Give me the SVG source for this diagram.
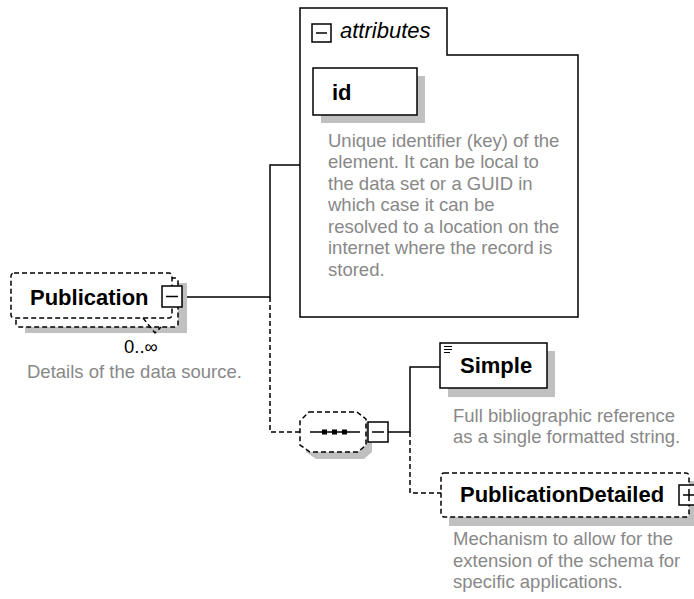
<svg xmlns="http://www.w3.org/2000/svg" width="694" height="599" viewBox="0 0 694 599">
<style>
.bg{fill:#fff}
.box{fill:#fff;stroke:#000;stroke-width:1.5}
.dash{stroke-dasharray:5 3}
.shadow{fill:#c0c0c0;stroke:none}
.btn{fill:#fff;stroke:#000;stroke-width:1.5}
.sign{stroke:#000;stroke-width:1.5;fill:none}
.conn{fill:none;stroke:#000;stroke-width:1.5}
.lbl{font-family:"Liberation Sans",Arial,sans-serif;font-weight:bold;font-size:22px;fill:#000}
.desc{font-family:"Liberation Sans",Arial,sans-serif;font-size:18.5px;fill:#888}
.card{font-family:"Liberation Sans",Arial,sans-serif;font-size:18.5px;fill:#000}
</style>
<rect class="bg" x="0" y="0" width="694" height="599"/>

<g id="connectors">
  <path class="conn" d="M182,297 H270 V165 H300"/>
  <path class="conn dash" d="M270,297 V432 H300"/>
  <path class="conn" d="M388,432 H410 V367 H440"/>
  <path class="conn dash" d="M410,432 V493 H441"/>
</g>

<g id="attributes">
  <path class="box" d="M300,8 H447 V55 H578 V317 H300 Z"/>
  <rect class="btn" x="312" y="24" width="19" height="18"/>
  <line class="sign" x1="316" y1="33" x2="327" y2="33"/>
  <text x="340" y="38" font-family="Liberation Sans, Arial, sans-serif" font-style="italic" font-size="22" fill="#000">attributes</text>
  <g id="id">
    <rect class="shadow" x="321" y="76" width="104" height="47"/>
    <rect class="box" x="313" y="68" width="104" height="47"/>
    <text class="lbl" x="332" y="100">id</text>
  </g>
  <text class="desc">
    <tspan x="328" y="146.5">Unique identifier (key) of the</tspan>
    <tspan x="328" y="168">element. It can be local to</tspan>
    <tspan x="328" y="189.5">the data set or a GUID in</tspan>
    <tspan x="328" y="211">which case it can be</tspan>
    <tspan x="328" y="232.5">resolved to a location on the</tspan>
    <tspan x="328" y="254">internet where the record is</tspan>
    <tspan x="328" y="275.5">stored.</tspan>
  </text>
</g>

<g id="Publication">
  <rect class="shadow" x="25" y="283" width="162" height="50"/>
  <rect class="box dash" x="16" y="278" width="162" height="49" rx="3"/>
  <rect class="box dash" x="11" y="273" width="161" height="45" rx="3"/>
  <path class="conn dash" d="M143,318 L155,333 L161,327"/>
  <text class="lbl" x="30" y="305">Publication</text>
  <rect class="btn" x="162" y="286" width="20" height="21"/>
  <line class="sign" x1="166" y1="296.5" x2="178" y2="296.5"/>
  <text class="card" x="124" y="353">0..∞</text>
  <text class="desc" x="27" y="378">Details of the data source.</text>
</g>

<g id="sequence">
  <polygon class="shadow" points="318,419 363,419 372,426 372,452 364,459 316,459 306,452 306,428"/>
  <polygon class="box dash" points="309,412 357,412 366,419 366,445 358,452 310,452 300,445 300,421"/>
  <line class="sign" x1="310" y1="432" x2="360" y2="432"/>
  <rect x="322" y="429.5" width="5" height="5" fill="#000"/>
  <rect x="332" y="429.5" width="5" height="5" fill="#000"/>
  <rect x="342" y="429.5" width="5" height="5" fill="#000"/>
  <rect class="btn" x="368" y="422" width="20" height="20"/>
  <line class="sign" x1="372" y1="432" x2="384" y2="432"/>
</g>

<g id="Simple">
  <rect class="shadow" x="448" y="351" width="107" height="46"/>
  <rect class="box" x="440" y="343" width="107" height="45"/>
  <g stroke="#000" stroke-width="1">
    <line x1="444" y1="346.5" x2="452" y2="346.5"/>
    <line x1="444" y1="349.5" x2="452" y2="349.5"/>
    <line x1="444" y1="352.5" x2="450" y2="352.5"/>
  </g>
  <text class="lbl" x="460" y="373">Simple</text>
  <text class="desc">
    <tspan x="453" y="421.5">Full bibliographic reference</tspan>
    <tspan x="453" y="443">as a single formatted string.</tspan>
  </text>
</g>

<g id="PublicationDetailed">
  <rect class="shadow" x="449" y="481" width="248" height="45"/>
  <rect class="box dash" x="441" y="473" width="248" height="44" rx="3"/>
  <text class="lbl" x="460" y="502">PublicationDetailed</text>
  <rect class="btn" x="679" y="485" width="20" height="20"/>
  <line class="sign" x1="683" y1="495" x2="695" y2="495"/>
  <line class="sign" x1="689" y1="489" x2="689" y2="501"/>
  <text class="desc">
    <tspan x="453" y="545">Mechanism to allow for the</tspan>
    <tspan x="453" y="566.5">extension of the schema for</tspan>
    <tspan x="453" y="588">specific applications.</tspan>
  </text>
</g>
</svg>
